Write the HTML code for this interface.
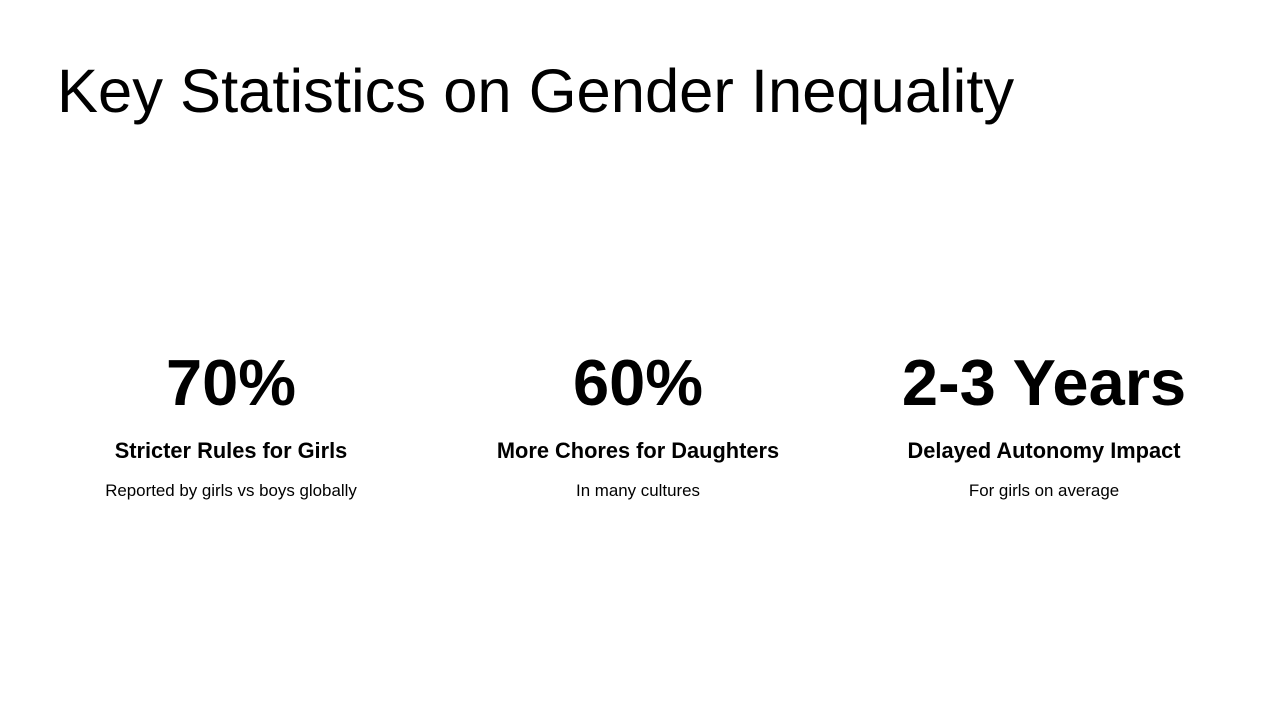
<!DOCTYPE html>
<html><head><meta charset="utf-8"><style>
html,body{margin:0;padding:0;background:#fff;}
body{width:1280px;height:720px;position:relative;overflow:hidden;font-family:"Liberation Sans","DejaVu Sans",sans-serif;color:#000;}
h1{position:absolute;left:57px;top:56px;margin:0;font-weight:400;font-size:61.5px;line-height:72px;white-space:nowrap;}
.col{position:absolute;top:344px;width:400px;text-align:center;}
.big{font-weight:700;font-size:65px;line-height:78px;}
.sub{font-weight:700;font-size:21.8px;line-height:26px;margin-top:16px;}
.desc{font-size:16.9px;line-height:20px;margin-top:17px;}
</style></head><body>
<h1>Key Statistics on Gender Inequality</h1>
<div class="col" style="left:31px"><div class="big">70%</div><div class="sub">Stricter Rules for Girls</div><div class="desc">Reported by girls vs boys globally</div></div>
<div class="col" style="left:438px"><div class="big">60%</div><div class="sub">More Chores for Daughters</div><div class="desc">In many cultures</div></div>
<div class="col" style="left:844px"><div class="big">2-3 Years</div><div class="sub">Delayed Autonomy Impact</div><div class="desc">For girls on average</div></div>
</body></html>
